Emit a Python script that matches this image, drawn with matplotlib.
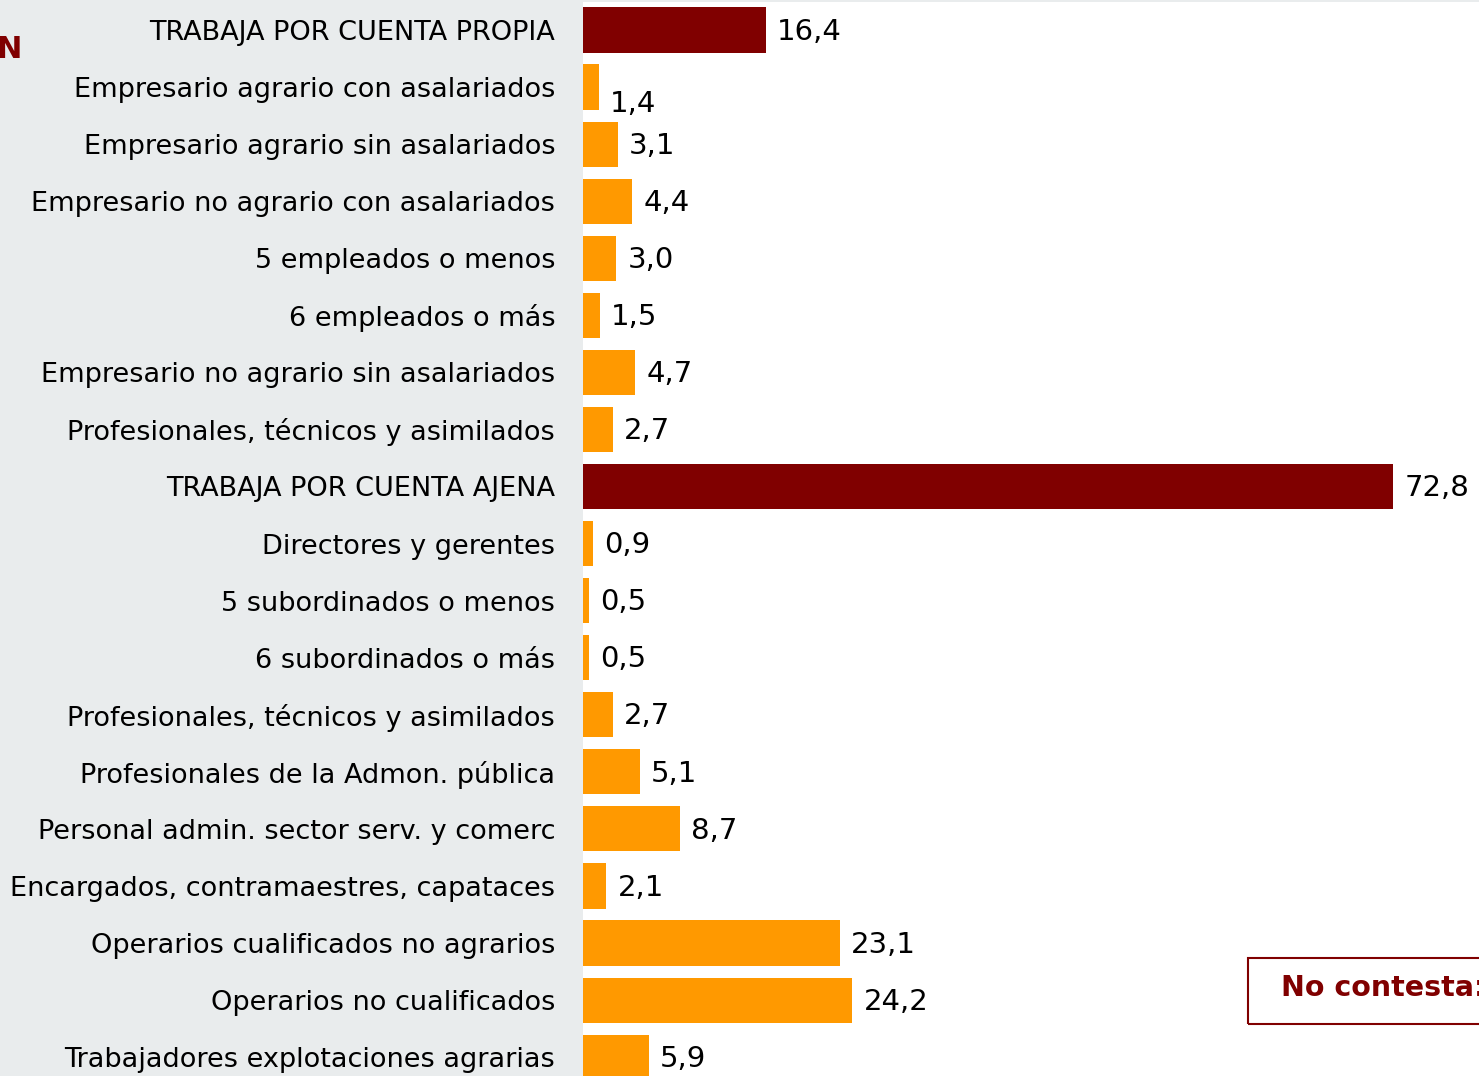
import matplotlib.pyplot as plt
from matplotlib.patches import Rectangle

# categories, top to bottom
labels = [
    "TRABAJA POR CUENTA PROPIA",
    "Empresario agrario con asalariados",
    "Empresario agrario sin asalariados",
    "Empresario no agrario con asalariados",
    "5 empleados o menos",
    "6 empleados o más",
    "Empresario no agrario sin asalariados",
    "Profesionales, técnicos y asimilados",
    "TRABAJA POR CUENTA AJENA",
    "Directores y gerentes",
    "5 subordinados o menos",
    "6 subordinados o más",
    "Profesionales, técnicos y asimilados",
    "Profesionales de la Admon. pública",
    "Personal admin. sector serv. y comerc",
    "Encargados, contramaestres, capataces",
    "Operarios cualificados no agrarios",
    "Operarios no cualificados",
    "Trabajadores explotaciones agrarias",
]
values = [16.4, 1.4, 3.1, 4.4, 3.0, 1.5, 4.7, 2.7, 72.8, 0.9, 0.5, 0.5,
          2.7, 5.1, 8.7, 2.1, 23.1, 24.2, 5.9]
is_total = [True] + [False] * 7 + [True] + [False] * 10

DARK = "#800000"
ORANGE = "#ff9900"
GREY = "#e9eced"

W, H = 1479, 1076
fig = plt.figure(figsize=(W / 100, H / 100), dpi=100, facecolor=GREY)
ax = fig.add_axes([583 / W, 0, 1 - 583 / W, 1 - 2 / H])
ax.set_facecolor("white")

ypos = list(range(len(values)))
colors = [DARK if t else ORANGE for t in is_total]
ax.barh(ypos, values, height=0.79, color=colors)

ax.set_xlim(0, 80.5)
ax.set_ylim(18.33, -0.49)
ax.set_yticks(ypos)
ax.set_yticklabels(labels, fontsize=19.5, family="DejaVu Sans")
ax.tick_params(axis="y", length=0, pad=20)
ax.set_xticks([])
for s in ax.spines.values():
    s.set_visible(False)

for y, v in zip(ypos, values):
    dy = 0.3 if v == 1.4 else 0.03
    ax.text(v + 1.0, y + dy, f"{v:.1f}".replace(".", ","), va="center",
            ha="left", fontsize=21)

# cut-off title letter
fig.text(22 / W, 1 - 49 / H, "N", color=DARK, fontsize=22, fontweight="bold",
         ha="right", va="center")

# "No contesta" box, cut by the figure edge
fig.patches.append(Rectangle((1248 / W, 1 - 1024 / H), (W - 1248 + 10) / W, 66 / H,
                             transform=fig.transFigure, fill=False,
                             edgecolor=DARK, linewidth=1.5))
fig.text(1281 / W, 1 - 988 / H, "No contesta:", color=DARK, fontsize=20.5,
         fontweight="bold", ha="left", va="center")

fig.savefig("out.png", dpi=100, facecolor=GREY)
